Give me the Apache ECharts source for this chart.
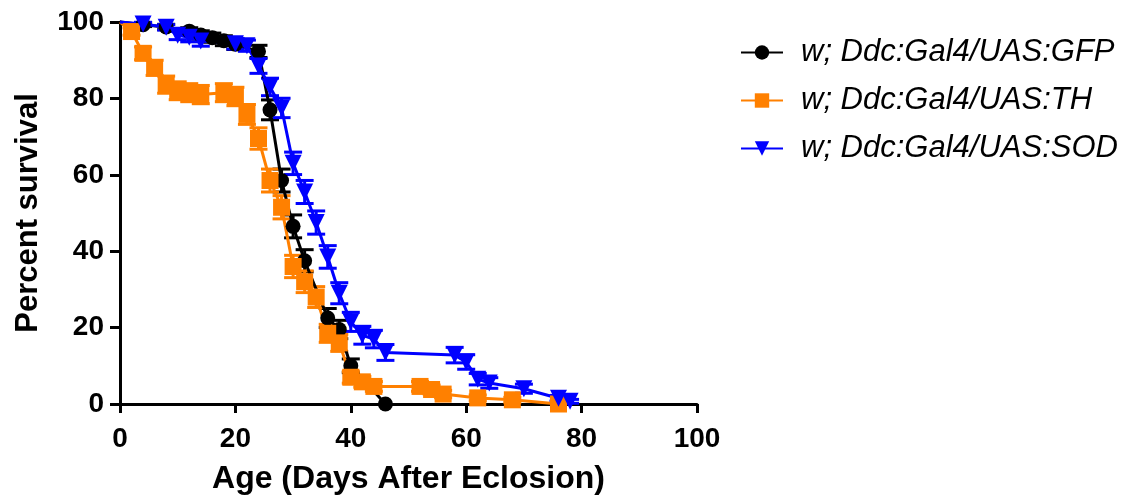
<!DOCTYPE html>
<html>
<head>
<meta charset="utf-8">
<script src="https://cdn.jsdelivr.net/npm/echarts@6/dist/echarts.min.js"></script>
<style>
  html, body { margin: 0; padding: 0; background: #fff; }
  #chart { width: 1132px; height: 500px; }
</style>
</head>
<body>
<div id="chart"></div>
<script>
// Survival (%) by age in days, with standard-error bars, for three genotypes.
const gfpName = 'w; Ddc:Gal4/UAS:GFP';
const gfpDays = [0, 4, 8, 12, 14, 16, 18, 20, 24, 26, 28, 30, 32, 36, 38, 40, 46];
const gfpSurvival = [100, 99.3, 98.7, 97.6, 96.6, 95.9, 95.1, 94.2, 92.3, 77, 58.5, 46.5, 37.5, 22.5, 19.5, 10, 0];
const gfpSE = [0, 0.5, 0.7, 0.9, 1.1, 1.2, 1.3, 1.4, 1.6, 2.6, 3.0, 3.0, 2.9, 2.5, 2.4, 1.8, 0];

const thName = 'w; Ddc:Gal4/UAS:TH';
const thDays = [0, 2, 4, 6, 8, 10, 12, 14, 18, 20, 22, 24, 26, 28, 30, 32, 34, 36, 38, 40, 42, 44, 52, 54, 56, 62, 68, 76];
const thSurvival = [100, 97.5, 91.8, 88, 83.6, 82, 81.5, 81, 81.5, 80.5, 75.8, 69.5, 58.5, 51.5, 36, 32, 28, 18.5, 16, 7, 5.8, 4.6, 4.6, 3.8, 2.6, 1.6, 1.1, 0];
const thSE = [0, 0.95, 1.67, 1.98, 2.25, 2.34, 2.36, 2.39, 2.36, 2.41, 2.6, 2.8, 3.0, 3.04, 2.92, 2.84, 2.73, 2.36, 2.23, 1.55, 1.42, 1.28, 1.28, 1.16, 0.97, 0.77, 0.64, 0];

const sodName = 'w; Ddc:Gal4/UAS:SOD';
const sodDays = [0, 4, 8, 10, 12, 14, 20, 22, 24, 26, 28, 30, 32, 34, 36, 38, 40, 42, 44, 46, 58, 60, 62, 64, 70, 76, 78];
const sodSurvival = [100, 99.5, 98.6, 96.5, 96, 95, 94.3, 93.8, 88.5, 83, 77.5, 63, 55.5, 47.5, 38.5, 29, 21.5, 18, 17, 13.5, 12.8, 11, 6.5, 5.5, 4, 1.5, 0.7];
const sodSE = [0, 0.43, 0.72, 1.12, 1.19, 1.33, 1.41, 1.47, 1.94, 2.29, 2.54, 2.94, 3.02, 3.04, 2.96, 2.76, 2.5, 2.34, 2.29, 2.08, 2.03, 1.9, 1.5, 1.39, 1.19, 0.74, 0.51];

const xTicks = [0, 20, 40, 60, 80, 100];
const yTicks = [0, 20, 40, 60, 80, 100];

const FONT = '"Liberation Sans", Arial, Helvetica, sans-serif';

// Points of a curve; the day-0 start carries no marker.
function linePoints(days, surv) {
  return days.map((d, i) => i === 0 ? { value: [d, surv[i]], symbol: 'none' } : [d, surv[i]]);
}

// [day, low, high] triples for the error bars (points with zero error are skipped).
function errorPoints(days, surv, se) {
  const out = [];
  days.forEach((d, i) => {
    if (se[i] > 0) out.push([d, surv[i] - se[i], surv[i] + se[i]]);
  });
  return out;
}

// Vertical bar with a horizontal cap at each end.
function errorBarRenderer(color) {
  return function (params, api) {
    const x = api.value(0);
    const lo = api.coord([x, api.value(1)]);
    const hi = api.coord([x, api.value(2)]);
    const half = 9;
    const style = { stroke: color, lineWidth: 3 };
    return {
      type: 'group',
      children: [
        { type: 'line', shape: { x1: lo[0], y1: lo[1], x2: hi[0], y2: hi[1] }, style },
        { type: 'line', shape: { x1: hi[0] - half, y1: hi[1], x2: hi[0] + half, y2: hi[1] }, style },
        { type: 'line', shape: { x1: lo[0] - half, y1: lo[1], x2: lo[0] + half, y2: lo[1] }, style }
      ]
    };
  };
}

function errorSeries(name, color, days, surv, se) {
  return {
    name: name + ' SE',
    type: 'custom',
    renderItem: errorBarRenderer(color),
    data: errorPoints(days, surv, se),
    encode: { x: 0, y: [1, 2] },
    clip: false,
    silent: true
  };
}

function lineSeries(name, color, symbol, size, rotate, days, surv) {
  return {
    name: name,
    type: 'line',
    data: linePoints(days, surv),
    symbol: symbol,
    symbolSize: size,
    symbolRotate: rotate,
    showAllSymbol: true,
    clip: false,
    itemStyle: { color: color, borderWidth: 0 },
    lineStyle: { color: color, width: 3 },
    animation: false
  };
}

const chart = echarts.init(document.getElementById('chart'), null, { renderer: 'canvas' });

chart.setOption({
  animation: false,
  backgroundColor: '#ffffff',
  grid: { left: 120, right: 435, top: 22, bottom: 94 },
  legend: {
    data: [gfpName, thName, sodName],
    orient: 'vertical',
    left: 735,
    top: 32,
    itemWidth: 42,
    itemHeight: 18,
    itemGap: 17,
    textStyle: {
      fontFamily: FONT,
      fontStyle: 'italic',
      fontSize: 31,
      lineHeight: 30,
      color: '#000',
      padding: [0, 0, 0, 13]
    }
  },
  xAxis: {
    type: 'value',
    min: xTicks[0],
    max: xTicks[xTicks.length - 1],
    interval: xTicks[1] - xTicks[0],
    name: 'Age (Days After Eclosion)',
    nameLocation: 'middle',
    nameGap: 59,
    nameTextStyle: { fontFamily: FONT, fontWeight: 'bold', fontSize: 32, color: '#000' },
    axisLine: { show: true, onZero: false, lineStyle: { color: '#000', width: 3 } },
    axisTick: { show: true, length: 9, lineStyle: { color: '#000', width: 3 } },
    axisLabel: { fontFamily: FONT, fontWeight: 'bold', fontSize: 28, color: '#000', margin: 21 },
    splitLine: { show: false }
  },
  yAxis: {
    type: 'value',
    min: yTicks[0],
    max: yTicks[yTicks.length - 1],
    interval: yTicks[1] - yTicks[0],
    name: 'Percent survival',
    nameLocation: 'middle',
    nameGap: 76,
    nameTextStyle: { fontFamily: FONT, fontWeight: 'bold', fontSize: 31, color: '#000' },
    axisLine: { show: true, onZero: false, lineStyle: { color: '#000', width: 3 } },
    axisTick: { show: true, length: 10, lineStyle: { color: '#000', width: 3 } },
    axisLabel: { fontFamily: FONT, fontWeight: 'bold', fontSize: 28, color: '#000', margin: 16 },
    splitLine: { show: false }
  },
  series: [
    errorSeries(gfpName, '#000000', gfpDays, gfpSurvival, gfpSE),
    lineSeries(gfpName, '#000000', 'circle', 15, 0, gfpDays, gfpSurvival),
    errorSeries(thName, '#FF8000', thDays, thSurvival, thSE),
    lineSeries(thName, '#FF8000', 'rect', 17, 0, thDays, thSurvival),
    errorSeries(sodName, '#0000FF', sodDays, sodSurvival, sodSE),
    lineSeries(sodName, '#0000FF', 'triangle', 17, 180, sodDays, sodSurvival)
  ]
});
</script>
</body>
</html>
